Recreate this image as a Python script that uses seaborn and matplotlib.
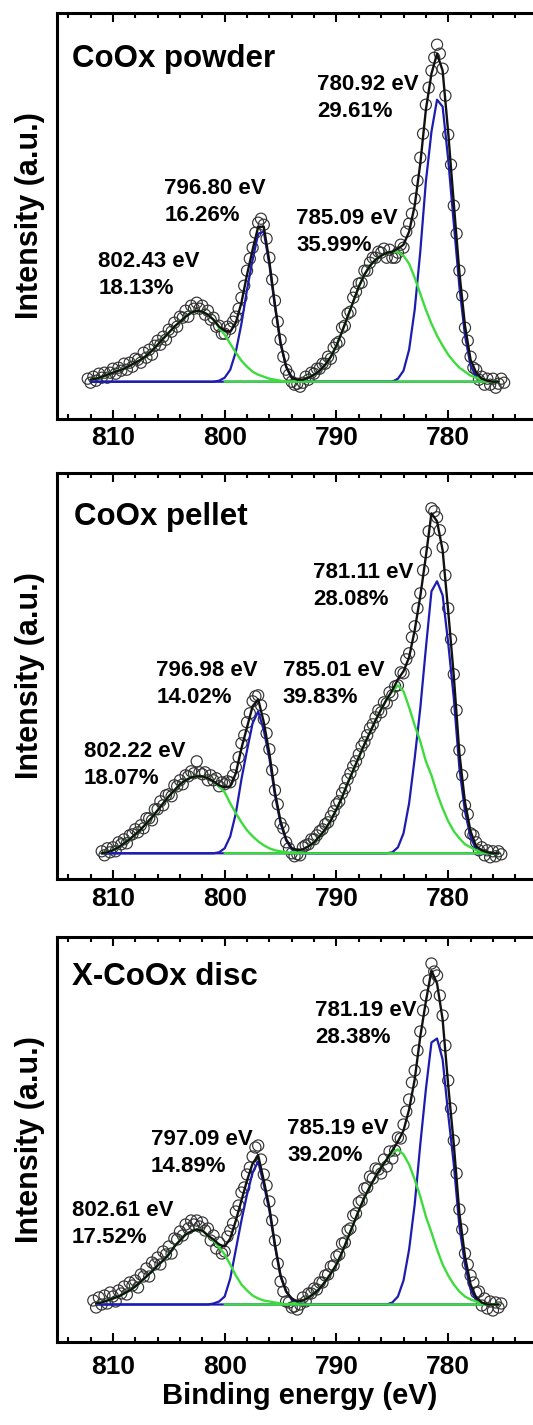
import numpy as np
import seaborn as sns
import matplotlib.pyplot as plt
from matplotlib.ticker import MultipleLocator

### DATA ###
# Co 2p XPS, intensity (a.u.) above the fitted background.
# Fit components sampled every 0.5 eV, measured points every 0.25 eV.
STEP = 0.5
DATA_STEP = 0.25
GRID_END = 775.5

SAMPLES = ["CoOx powder", "CoOx pellet", "X-CoOx disc"]
GRID_START = [812.0, 811.0, 811.5]
DATA_START = [812.25, 811.0, 811.75]
GREEN1_START = 800.0  # broad satellite line only drawn from here down
XTICKS = [810, 800, 790, 780]

# peak labels (left to right on the reversed axis)
PEAKS_P1 = ["802.43 eV", "796.80 eV", "785.09 eV", "780.92 eV"]
AREAS_P1 = ["18.13%", "16.26%", "35.99%", "29.61%"]
PEAKS_P2 = ["802.22 eV", "796.98 eV", "785.01 eV", "781.11 eV"]
AREAS_P2 = ["18.07%", "14.02%", "39.83%", "28.08%"]
PEAKS_P3 = ["802.61 eV", "797.09 eV", "785.19 eV", "781.19 eV"]
AREAS_P3 = ["17.52%", "14.89%", "39.20%", "28.38%"]

#### CoOx powder ####
MEAS_P1 = [3, -1, 5, 1, 8, 4, 9, 4, 9, 13,
           8, 14, 11, 18, 12, 19, 15, 23, 22, 19,
           29, 24, 32, 27, 36, 41, 37, 45, 42, 52,
           50, 59, 55, 65, 64, 71, 65, 76, 73, 79,
           73, 76, 67, 71, 62, 64, 55, 56, 48, 48,
           55, 53, 60, 65, 73, 84, 96, 111, 123, 134,
           149, 159, 163, 157, 143, 124, 102, 81, 60, 42,
           25, 12, 7, 0, -3, -2, -5, -1, 5, 2,
           9, 8, 13, 13, 18, 18, 25, 23, 34, 38,
           40, 54, 56, 68, 70, 84, 90, 98, 99, 111,
           111, 119, 124, 124, 130, 129, 133, 124, 132, 124,
           124, 129, 137, 134, 150, 158, 168, 183, 201, 224,
           248, 277, 294, 311, 324, 337, 328, 313, 286, 247,
           217, 176, 148, 111, 86, 54, 41, 25, 14, 12,
           2, 5, -3, 3, -3, 3, -6, -2, 3, -1]
GREEN2_START_P1 = 812.0
GREEN2_P1 = [2, 3, 5, 7, 9, 11, 13, 16, 19, 22, 26, 31, 37, 43, 49, 55, 60, 65,
             69, 71, 70, 67, 62, 54, 47, 38, 29, 21, 15, 10, 7, 5, 3, 2, 1, 0]
BLUE2_START_P1 = 801.0
BLUE2_P1 = [0, 1, 4, 12, 30, 58, 92, 122, 148, 150, 117, 75, 38, 15, 4, 1, 0]
GREEN1_P1 = [0, 0, 0, 0, 0, 0, 0, 0, 0, 0, 0, 0,
             0, 1, 2, 4, 7, 11, 17, 25, 36, 50, 65, 80, 95, 107, 116, 122, 126,
             129, 130, 130, 126, 118, 104, 88, 72, 58, 46, 36, 27, 20, 14, 10,
             6, 4, 2, 1, 0, 0]
BLUE1_START_P1 = 785.0
BLUE1_P1 = [0, 3, 11, 32, 72, 130, 200, 250, 282, 275, 222, 158, 95, 46, 16, 5, 1, 0]

#### CoOx pellet ####
MEAS_P2 = [2, -2, 5, 1, 6, 2, 11, 9, 14, 10,
           18, 19, 24, 21, 28, 25, 35, 35, 33, 44,
           44, 52, 48, 58, 59, 57, 68, 67, 73, 69,
           78, 77, 82, 80, 92, 81, 79, 81, 73, 78,
           73, 75, 67, 71, 69, 72, 71, 78, 86, 96,
           110, 118, 131, 140, 152, 157, 158, 148, 134, 120,
           104, 83, 63, 49, 30, 25, 11, 5, 0, -3,
           -1, -2, 6, 8, 9, 14, 14, 18, 22, 24,
           29, 31, 37, 42, 49, 52, 60, 65, 74, 80,
           87, 92, 99, 107, 111, 118, 125, 129, 136, 143,
           141, 151, 150, 161, 158, 167, 168, 181, 180, 194,
           200, 216, 227, 245, 260, 283, 301, 322, 345, 342,
           336, 323, 306, 278, 245, 214, 179, 143, 103, 78,
           48, 39, 20, 18, 11, 3, 6, -2, 3, -4,
           2, -3, 2, -1]
GREEN2_START_P2 = 811.0
GREEN2_P2 = [0, 1, 3, 6, 10, 14, 19, 24, 30, 36, 43, 50, 57, 63, 69, 73, 76, 77,
             77, 75, 72, 67, 61, 50, 40, 31, 23, 17, 12, 8, 5, 3, 2, 1, 0]
BLUE2_START_P2 = 801.0
BLUE2_P2 = [0, 1, 5, 17, 40, 74, 103, 130, 142, 123, 95, 58, 30, 13, 4, 1, 0]
GREEN1_P2 = [0, 0, 0, 0, 0, 0, 0, 0, 0, 0, 0, 0,
             1, 2, 4, 7, 11, 17, 24, 33, 44, 56, 70, 83, 96, 109, 121, 133, 144,
             154, 162, 168, 162, 146, 128, 112, 92, 78, 60, 45, 32, 22, 15, 9,
             6, 3, 2, 1, 0, 0]
BLUE1_START_P2 = 785.5
BLUE1_P2 = [0, 1, 6, 20, 50, 95, 145, 205, 262, 272, 258, 210, 155, 85, 42, 16, 4, 1, 0]

#### X-CoOx disc ####
MEAS_P3 = [4, -3, 7, 0, 9, 1, 12, 8, 3, 14,
           11, 18, 10, 22, 19, 24, 17, 30, 28, 36,
           28, 42, 40, 47, 40, 53, 50, 58, 51, 66,
           65, 73, 69, 80, 76, 84, 80, 84, 78, 82,
           74, 76, 64, 69, 56, 62, 51, 53, 68, 74,
           81, 93, 99, 112, 117, 130, 137, 148, 157, 159,
           145, 130, 119, 103, 84, 64, 41, 23, 13, 3,
           2, -3, -2, -5, 0, 7, 3, 11, 11, 16,
           15, 22, 22, 29, 30, 38, 39, 48, 50, 61,
           62, 74, 76, 89, 91, 102, 104, 116, 117, 128,
           126, 136, 135, 131, 145, 138, 153, 146, 154, 167,
           166, 180, 193, 205, 222, 234, 254, 273, 294, 309,
           324, 341, 333, 329, 309, 289, 259, 224, 196, 164,
           131, 95, 75, 51, 40, 29, 22, 12, 13, -1,
           6, -4, 3, -6, 2, -3, 1]
GREEN2_START_P3 = 811.5
GREEN2_P3 = [1, 2, 4, 6, 8, 11, 14, 18, 23, 28, 33, 39, 44, 50, 58, 64, 70, 73,
             75, 74, 69, 64, 57, 50, 40, 29, 20, 14, 9, 6, 4, 3, 2, 1, 0]
BLUE2_START_P3 = 801.5
BLUE2_P3 = [0, 1, 3, 8, 26, 55, 84, 110, 132, 143, 120, 94, 58, 28, 13, 5, 1, 0]
GREEN1_P3 = [0, 0, 0, 0, 0, 0, 0, 0, 0, 0, 0, 0,
             1, 2, 4, 7, 11, 16, 23, 31, 40, 52, 66, 80, 94, 107, 118, 128, 137,
             145, 152, 155, 150, 140, 125, 108, 88, 72, 55, 40, 29, 20, 13, 8,
             5, 3, 1, 0, 0, 0]
BLUE1_START_P3 = 785.5
BLUE1_P3 = [0, 2, 8, 24, 55, 100, 160, 215, 262, 266, 245, 190, 140, 78, 40, 15, 4, 1, 0]

### LAYOUT ###
FIG_W, FIG_H = 533, 1425
AX_LEFT, AX_W = 57, 503           # px; axes runs past the right edge
AX_TOP = [13, 473, 937]
AX_BOTTOM = [419, 879, 1342]
YLIMS = [(-37.3, 368.7), (-25.7, 380.3), (-37.5, 367.5)]
TICK_PAD = [5, 6, 9]
TITLE_XY = [(813.7, 315), (813.5, 328), (813.7, 319.5)]
LABEL_XY = [
    [(811.3, 115), (805.4, 188), (793.6, 158), (791.7, 292)],
    [(812.6, 96), (806.1, 177), (794.8, 177), (792.1, 275)],
    [(813.7, 88.5), (806.6, 159.5), (794.4, 170.5), (791.9, 288.5)],
]
LINE_GAP = 27

BLUE = "#1c1cb0"
GREEN = "#3ddc3d"

sns.set_style("ticks")
plt.rcParams["font.family"] = ["Liberation Sans", "DejaVu Sans"]
plt.rcParams.update({
    "font.weight": "bold",
    "axes.labelweight": "bold",
    "axes.linewidth": 2.2,
    "axes.edgecolor": "black",
    "axes.labelcolor": "black",
    "text.color": "black",
    "xtick.color": "black",
    "xtick.labelsize": 19,
})


def energies(start, n, step):
    return start - step * np.arange(n)


def on_grid(grid, start, vals):
    out = np.zeros(len(grid))
    i0 = int(round((grid[0] - start) / STEP))
    out[i0:i0 + len(vals)] = vals
    return out


panels = [
    (MEAS_P1, GREEN2_START_P1, GREEN2_P1, BLUE2_START_P1, BLUE2_P1, GREEN1_P1,
     BLUE1_START_P1, BLUE1_P1, PEAKS_P1, AREAS_P1),
    (MEAS_P2, GREEN2_START_P2, GREEN2_P2, BLUE2_START_P2, BLUE2_P2, GREEN1_P2,
     BLUE1_START_P2, BLUE1_P2, PEAKS_P2, AREAS_P2),
    (MEAS_P3, GREEN2_START_P3, GREEN2_P3, BLUE2_START_P3, BLUE2_P3, GREEN1_P3,
     BLUE1_START_P3, BLUE1_P3, PEAKS_P3, AREAS_P3),
]

fig = plt.figure(figsize=(FIG_W / 100, FIG_H / 100), dpi=100)

for k, (meas, g2s, g2, b2s, b2, g1, b1s, b1, peaks, areas) in enumerate(panels):
    top, bottom = AX_TOP[k], AX_BOTTOM[k]
    ax = fig.add_axes([AX_LEFT / FIG_W, 1 - bottom / FIG_H,
                       AX_W / FIG_W, (bottom - top) / FIG_H])

    n_grid = int(round((GRID_START[k] - GRID_END) / STEP)) + 1
    grid = energies(GRID_START[k], n_grid, STEP)
    blue1 = on_grid(grid, b1s, b1)
    blue2 = on_grid(grid, b2s, b2)
    green2 = on_grid(grid, g2s, g2)
    green1 = on_grid(grid, GREEN1_START, g1)
    envelope = blue1 + blue2 + green1 + green2

    # measured points
    sns.scatterplot(x=energies(DATA_START[k], len(meas), DATA_STEP), y=meas, ax=ax,
                    marker="o", s=64, facecolors="none", edgecolor="#333333",
                    linewidth=0.85, zorder=2)
    # fitted components
    line_kw = dict(ax=ax, estimator=None, sort=False, zorder=3)
    sns.lineplot(x=grid, y=blue1, color=BLUE, lw=1.6, **line_kw)
    sns.lineplot(x=grid, y=blue2, color=BLUE, lw=1.6, **line_kw)
    sns.lineplot(x=energies(GREEN1_START, len(g1), STEP), y=g1, color=GREEN, lw=1.7, **line_kw)
    sns.lineplot(x=grid, y=green2, color=GREEN, lw=1.7, **line_kw)
    sns.lineplot(x=grid, y=envelope, color="#111111", lw=1.7, ax=ax,
                 estimator=None, sort=False, zorder=4)

    ax.set_xlim(815, 770)
    ax.set_ylim(*YLIMS[k])
    ax.set_yticks([])
    ax.set_xticks(XTICKS)
    ax.xaxis.set_minor_locator(MultipleLocator(2))
    ax.tick_params(axis="x", which="both", direction="in", top=True, bottom=True,
                   width=1.5, pad=TICK_PAD[k], color="black", labelcolor="black")
    ax.tick_params(axis="x", which="major", length=6.5)
    ax.tick_params(axis="x", which="minor", length=3.5)
    for side in ["top", "right", "bottom", "left"]:
        ax.spines[side].set_visible(True)
        ax.spines[side].set_linewidth(2.2)
        ax.spines[side].set_color("black")

    ax.set_ylabel("Intensity (a.u.)", fontsize=22, fontweight="bold")
    ax.yaxis.set_label_coords(-0.024, 0.5)
    if k == 2:
        ax.set_xlabel("Binding energy (eV)", fontsize=21, fontweight="bold")
        ax.xaxis.set_label_coords(0.483, -0.098)
    else:
        ax.set_xlabel("")

    tx, ty = TITLE_XY[k]
    ax.text(tx, ty, SAMPLES[k], fontsize=22.5, fontweight="bold",
            ha="left", va="baseline", zorder=5)
    for (lx, ly), peak, area in zip(LABEL_XY[k], peaks, areas):
        ax.text(lx, ly, peak, fontsize=16, fontweight="bold",
                ha="left", va="baseline", zorder=5)
        ax.text(lx, ly - LINE_GAP, area, fontsize=16, fontweight="bold",
                ha="left", va="baseline", zorder=5)

fig.savefig("out.png", dpi=100)
